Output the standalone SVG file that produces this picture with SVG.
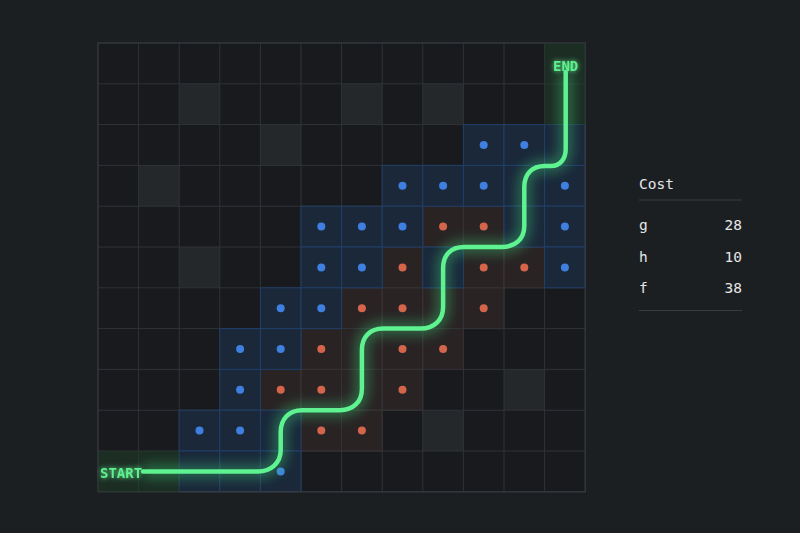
<svg xmlns="http://www.w3.org/2000/svg" width="800" height="533" viewBox="0 0 800 533">
<defs>
<style>
.bg{fill:#1c1f22}
.board{fill:#181a1d}
.gl{stroke:#303337;stroke-width:1;fill:none}
.ob{fill:#25282b}
.open{fill:#1a283a;stroke:#223f68;stroke-width:1}
.closed{fill:#292324;stroke:#47302d;stroke-width:1}
.gt{fill:#1f3a2a;opacity:0.6}
.bd{fill:#3f7fe0}
.rd{fill:#d4654b}
.lbl{font-family:"DejaVu Sans Mono","Liberation Mono",monospace;font-size:14px;font-weight:bold;fill:#5ef08f}
.txt{font-family:"DejaVu Sans Mono","Liberation Mono",monospace;font-size:14.5px;fill:#e4e6e8}
.rule{stroke:#3a3d42;stroke-width:1.2}
</style>
<filter id="glow" x="-20%" y="-20%" width="140%" height="140%">
<feGaussianBlur stdDeviation="6"/>
</filter>
<filter id="tglow" x="-30%" y="-50%" width="160%" height="200%">
<feGaussianBlur stdDeviation="2.5" result="b"/>
<feMerge><feMergeNode in="b"/><feMergeNode in="SourceGraphic"/></feMerge>
</filter>
</defs>
<rect class="bg" width="800" height="533"/>
<g id="board">
<rect class="board" x="98" y="43" width="487.2" height="448.8"/>
<g id="obstacles">
<rect class="ob" x="179.2" y="83.8" width="40.6" height="40.8"/>
<rect class="ob" x="260.4" y="124.6" width="40.6" height="40.8"/>
<rect class="ob" x="138.6" y="165.4" width="40.6" height="40.8"/>
<rect class="ob" x="179.2" y="247" width="40.6" height="40.8"/>
<rect class="ob" x="341.6" y="83.8" width="40.6" height="40.8"/>
<rect class="ob" x="422.8" y="83.8" width="40.6" height="40.8"/>
<rect class="ob" x="504" y="369.4" width="40.6" height="40.8"/>
<rect class="ob" x="422.8" y="410.2" width="40.6" height="40.8"/>
</g>
<g id="closed-set">
<rect class="closed" x="422.8" y="206.2" width="40.6" height="40.8"/>
<rect class="closed" x="463.4" y="206.2" width="40.6" height="40.8"/>
<rect class="closed" x="382.2" y="247" width="40.6" height="40.8"/>
<rect class="closed" x="463.4" y="247" width="40.6" height="40.8"/>
<rect class="closed" x="504" y="247" width="40.6" height="40.8"/>
<rect class="closed" x="341.6" y="287.8" width="40.6" height="40.8"/>
<rect class="closed" x="382.2" y="287.8" width="40.6" height="40.8"/>
<rect class="closed" x="422.8" y="287.8" width="40.6" height="40.8"/>
<rect class="closed" x="463.4" y="287.8" width="40.6" height="40.8"/>
<rect class="closed" x="301" y="328.6" width="40.6" height="40.8"/>
<rect class="closed" x="341.6" y="328.6" width="40.6" height="40.8"/>
<rect class="closed" x="382.2" y="328.6" width="40.6" height="40.8"/>
<rect class="closed" x="422.8" y="328.6" width="40.6" height="40.8"/>
<rect class="closed" x="260.4" y="369.4" width="40.6" height="40.8"/>
<rect class="closed" x="301" y="369.4" width="40.6" height="40.8"/>
<rect class="closed" x="341.6" y="369.4" width="40.6" height="40.8"/>
<rect class="closed" x="382.2" y="369.4" width="40.6" height="40.8"/>
<rect class="closed" x="301" y="410.2" width="40.6" height="40.8"/>
<rect class="closed" x="341.6" y="410.2" width="40.6" height="40.8"/>
</g>
<g id="grid-lines">
<path class="gl" d="M138.6,43V491.8M179.2,43V491.8M219.8,43V491.8M260.4,43V491.8M301,43V491.8M341.6,43V491.8M382.2,43V491.8M422.8,43V491.8M463.4,43V491.8M504,43V491.8M544.6,43V491.8M98,83.8H585.2M98,124.6H585.2M98,165.4H585.2M98,206.2H585.2M98,247H585.2M98,287.8H585.2M98,328.6H585.2M98,369.4H585.2M98,410.2H585.2M98,451H585.2"/>
</g>
<g id="open-set">
<rect class="open" x="463.4" y="124.6" width="40.6" height="40.8"/>
<rect class="open" x="504" y="124.6" width="40.6" height="40.8"/>
<rect class="open" x="544.6" y="124.6" width="40.6" height="40.8"/>
<rect class="open" x="382.2" y="165.4" width="40.6" height="40.8"/>
<rect class="open" x="422.8" y="165.4" width="40.6" height="40.8"/>
<rect class="open" x="463.4" y="165.4" width="40.6" height="40.8"/>
<rect class="open" x="504" y="165.4" width="40.6" height="40.8"/>
<rect class="open" x="544.6" y="165.4" width="40.6" height="40.8"/>
<rect class="open" x="301" y="206.2" width="40.6" height="40.8"/>
<rect class="open" x="341.6" y="206.2" width="40.6" height="40.8"/>
<rect class="open" x="382.2" y="206.2" width="40.6" height="40.8"/>
<rect class="open" x="504" y="206.2" width="40.6" height="40.8"/>
<rect class="open" x="544.6" y="206.2" width="40.6" height="40.8"/>
<rect class="open" x="301" y="247" width="40.6" height="40.8"/>
<rect class="open" x="341.6" y="247" width="40.6" height="40.8"/>
<rect class="open" x="422.8" y="247" width="40.6" height="40.8"/>
<rect class="open" x="544.6" y="247" width="40.6" height="40.8"/>
<rect class="open" x="260.4" y="287.8" width="40.6" height="40.8"/>
<rect class="open" x="301" y="287.8" width="40.6" height="40.8"/>
<rect class="open" x="219.8" y="328.6" width="40.6" height="40.8"/>
<rect class="open" x="260.4" y="328.6" width="40.6" height="40.8"/>
<rect class="open" x="219.8" y="369.4" width="40.6" height="40.8"/>
<rect class="open" x="179.2" y="410.2" width="40.6" height="40.8"/>
<rect class="open" x="219.8" y="410.2" width="40.6" height="40.8"/>
<rect class="open" x="260.4" y="410.2" width="40.6" height="40.8"/>
<rect class="open" x="179.2" y="451" width="40.6" height="40.8"/>
<rect class="open" x="219.8" y="451" width="40.6" height="40.8"/>
<rect class="open" x="260.4" y="451" width="40.6" height="40.8"/>
</g>
<rect x="98" y="43" width="487.2" height="448.8" fill="none" stroke="#3a3d41" stroke-width="1.2"/>
<g id="endpoint-tint">
<rect class="gt" x="98" y="451" width="81.2" height="40.8"/>
<rect class="gt" x="544.6" y="43" width="40.6" height="81.6"/>
</g>
<g id="dots">
<circle class="bd" cx="483.7" cy="145" r="4"/>
<circle class="bd" cx="524.3" cy="145" r="4"/>
<circle class="bd" cx="402.5" cy="185.8" r="4"/>
<circle class="bd" cx="443.1" cy="185.8" r="4"/>
<circle class="bd" cx="483.7" cy="185.8" r="4"/>
<circle class="bd" cx="564.9" cy="185.8" r="4"/>
<circle class="bd" cx="321.3" cy="226.6" r="4"/>
<circle class="bd" cx="361.9" cy="226.6" r="4"/>
<circle class="bd" cx="402.5" cy="226.6" r="4"/>
<circle class="bd" cx="564.9" cy="226.6" r="4"/>
<circle class="bd" cx="321.3" cy="267.4" r="4"/>
<circle class="bd" cx="361.9" cy="267.4" r="4"/>
<circle class="bd" cx="564.9" cy="267.4" r="4"/>
<circle class="bd" cx="280.7" cy="308.2" r="4"/>
<circle class="bd" cx="321.3" cy="308.2" r="4"/>
<circle class="bd" cx="240.1" cy="349" r="4"/>
<circle class="bd" cx="280.7" cy="349" r="4"/>
<circle class="bd" cx="240.1" cy="389.8" r="4"/>
<circle class="bd" cx="199.5" cy="430.6" r="4"/>
<circle class="bd" cx="240.1" cy="430.6" r="4"/>
<circle class="bd" cx="280.7" cy="471.4" r="4"/>
<circle class="rd" cx="443.1" cy="226.6" r="4"/>
<circle class="rd" cx="483.7" cy="226.6" r="4"/>
<circle class="rd" cx="402.5" cy="267.4" r="4"/>
<circle class="rd" cx="483.7" cy="267.4" r="4"/>
<circle class="rd" cx="524.3" cy="267.4" r="4"/>
<circle class="rd" cx="361.9" cy="308.2" r="4"/>
<circle class="rd" cx="402.5" cy="308.2" r="4"/>
<circle class="rd" cx="483.7" cy="308.2" r="4"/>
<circle class="rd" cx="321.3" cy="349" r="4"/>
<circle class="rd" cx="402.5" cy="349" r="4"/>
<circle class="rd" cx="443.1" cy="349" r="4"/>
<circle class="rd" cx="280.7" cy="389.8" r="4"/>
<circle class="rd" cx="321.3" cy="389.8" r="4"/>
<circle class="rd" cx="402.5" cy="389.8" r="4"/>
<circle class="rd" cx="321.3" cy="430.6" r="4"/>
<circle class="rd" cx="361.9" cy="430.6" r="4"/>
</g>
</g>
<g id="connectors">
<path id="route-glow" d="M143,471.4 H258 C271,471.4 280.7,463 280.7,450 V432 C280.7,419 289,410.2 302,410.2 H340 C353,410.2 361.9,402 361.9,389 V350 C361.9,337 370,328.6 383,328.6 H421 C434,328.6 443.1,320 443.1,307 V268 C443.1,255 451,247 464,247 H502 C515,247 524.3,239 524.3,226 V187 C524.3,174 532,166 545,166 H551 C560,166 565.7,159 565.7,149 V72" fill="none" stroke="#3ee07a" stroke-width="14" stroke-opacity="0.35" filter="url(#glow)"/>
<path id="route" d="M143,471.4 H258 C271,471.4 280.7,463 280.7,450 V432 C280.7,419 289,410.2 302,410.2 H340 C353,410.2 361.9,402 361.9,389 V350 C361.9,337 370,328.6 383,328.6 H421 C434,328.6 443.1,320 443.1,307 V268 C443.1,255 451,247 464,247 H502 C515,247 524.3,239 524.3,226 V187 C524.3,174 532,166 545,166 H551 C560,166 565.7,159 565.7,149 V72" fill="none" stroke="#5ef290" stroke-width="4.5" stroke-linecap="round" stroke-linejoin="round"/>
</g>
<g id="start">
<text class="lbl" x="100" y="478" filter="url(#tglow)">START</text>
</g>
<g id="end">
<text class="lbl" x="553" y="71" filter="url(#tglow)">END</text>
</g>
<g id="cost-panel">
<text class="txt" x="639" y="189">Cost</text>
<line class="rule" x1="639" y1="200" x2="742" y2="200"/>
<text class="txt" x="639" y="230">g</text>
<text class="txt" x="742" y="230" text-anchor="end">28</text>
<text class="txt" x="639" y="262">h</text>
<text class="txt" x="742" y="262" text-anchor="end">10</text>
<text class="txt" x="639" y="293">f</text>
<text class="txt" x="742" y="293" text-anchor="end">38</text>
<line class="rule" x1="639" y1="310.5" x2="742" y2="310.5"/>
</g>
</svg>
